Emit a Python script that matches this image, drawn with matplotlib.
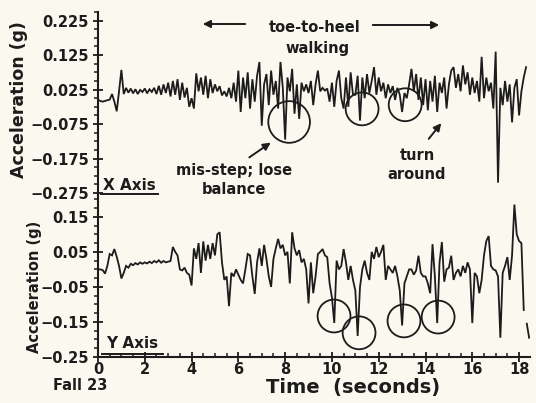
import numpy as np
import matplotlib
matplotlib.use("Agg")
import matplotlib.pyplot as plt
from matplotlib.lines import Line2D
from matplotlib.patches import FancyArrowPatch
from matplotlib.ticker import MultipleLocator, FixedLocator, FixedFormatter

W, H = 536, 403
BG = "#fbf8ef"
INK = "#1c1c1c"
FONT = "DejaVu Sans"

DT = 0.1  # sample spacing (s)

# X-axis acceleration (g), one value every 0.1 s from t = 0
x_acc = [
    -0.005, -0.008, -0.010, -0.008, -0.006, -0.004, 0.012, -0.010, -0.038, 0.020,
    0.082, 0.012, 0.030, 0.016, 0.028, 0.014, 0.026, 0.012, 0.024, 0.018,
    0.028, 0.014, 0.026, 0.018, 0.030, 0.012, 0.036, 0.010, 0.040, 0.015,
    0.045, 0.005, 0.050, 0.010, 0.055, -0.005, 0.045, 0.002, 0.030, -0.025,
    0.000, -0.030, 0.072, 0.020, 0.060, 0.010, 0.065, 0.000, 0.055, 0.015,
    0.040, 0.020, 0.035, 0.008, 0.020, 0.005, 0.030, 0.000, 0.045, -0.010,
    0.080, -0.040, 0.060, 0.000, 0.075, -0.030, 0.055, -0.010, 0.065, 0.105,
    -0.080, 0.040, 0.070, -0.020, 0.080, 0.010, 0.050, -0.030, 0.105, 0.030,
    -0.120, 0.060, 0.020, 0.085, -0.045, 0.040, -0.060, 0.045, 0.020, 0.040,
    0.015, 0.050, -0.020, 0.040, 0.080, 0.020, 0.030, 0.022, 0.028, -0.010,
    0.045, -0.025, 0.050, 0.080, 0.000, -0.030, 0.060, -0.025, 0.075, 0.010,
    0.010, 0.065, -0.065, 0.060, 0.000, 0.070, 0.015, 0.050, 0.090, 0.010,
    0.060, 0.020, 0.045, 0.000, 0.040, 0.015, 0.035, -0.005, 0.030, 0.010,
    -0.040, 0.015, 0.000, 0.040, 0.085, 0.020, 0.070, -0.005, 0.060, -0.020,
    0.055, -0.035, 0.050, -0.010, 0.065, -0.040, 0.045, 0.015, 0.060, -0.030,
    0.040, 0.080, 0.090, 0.030, 0.070, 0.020, 0.095, 0.040, 0.075, 0.010,
    0.060, 0.015, 0.050, -0.010, 0.120, 0.000, 0.060, 0.020, 0.045, -0.030,
    0.135, -0.245, 0.030, -0.020, 0.050, -0.010, 0.040, -0.070, 0.030, 0.055,
    -0.050, 0.020, 0.060, 0.090,
]

# Y-axis acceleration (g), one value every 0.1 s from t = 0
y_acc = [
    0.000, 0.000, -0.002, -0.012, 0.010, 0.044, 0.040, 0.058, 0.036, 0.010,
    -0.026, -0.010, 0.010, 0.005, 0.016, 0.012, 0.018, 0.014, 0.020, 0.016,
    0.020, 0.017, 0.022, 0.018, 0.024, 0.020, 0.026, 0.019, 0.024, 0.020,
    0.022, 0.024, 0.064, 0.050, 0.040, 0.000, -0.003, 0.005, -0.010, -0.015,
    -0.046, 0.060, 0.030, 0.075, -0.010, 0.080, 0.025, 0.070, 0.030, 0.075,
    0.040, 0.100, 0.106, 0.020, -0.030, -0.020, -0.105, -0.010, -0.020, 0.000,
    -0.015, -0.030, -0.040, 0.000, 0.044, 0.040, -0.020, -0.070, 0.020, 0.060,
    0.010, 0.070, 0.030, -0.020, -0.050, 0.030, 0.060, 0.087, 0.060, 0.070,
    0.040, 0.050, -0.040, 0.106, 0.060, 0.040, 0.055, 0.020, 0.030, 0.000,
    -0.097, 0.020, -0.068, -0.020, 0.044, 0.050, 0.058, 0.040, 0.035, -0.040,
    -0.080, -0.153, 0.025, 0.000, 0.010, 0.058, 0.020, -0.030, 0.010, -0.030,
    -0.060, -0.190, -0.050, 0.000, 0.025, -0.010, -0.030, 0.050, 0.030, 0.064,
    0.035, 0.050, 0.070, -0.030, 0.010, 0.000, -0.010, 0.010, -0.020, -0.060,
    -0.160, -0.040, -0.020, 0.000, 0.000, -0.015, -0.003, 0.039, -0.010, -0.020,
    -0.020, -0.040, -0.068, 0.072, -0.020, -0.153, 0.020, 0.078, -0.035, 0.000,
    0.005, 0.039, -0.030, -0.010, 0.000, -0.020, 0.010, -0.010, 0.020, 0.000,
    -0.153, -0.010, -0.020, -0.068, -0.030, 0.040, 0.081, 0.095, 0.010, 0.000,
    -0.003, -0.020, -0.195, -0.010, 0.010, 0.035, -0.030, 0.040, 0.185, 0.100,
    0.081, 0.075, -0.116,
]
# short detached piece at the very end of the Y trace
y_tail_t = [18.33, 18.43]
y_tail = [-0.155, -0.195]

x_ticks = [0.225, 0.125, 0.025, -0.075, -0.175, -0.275]
y_ticks = [0.15, 0.05, -0.05, -0.15, -0.25]
t_ticks = [0, 2, 4, 6, 8, 10, 12, 14, 16, 18]

# circled events (t, g, marker size)
x_circles = [(8.17, -0.069, 900), (11.29, -0.031, 560), (13.13, -0.019, 560)]
y_circles = [(10.09, -0.133, 560), (11.16, -0.181, 560),
             (13.08, -0.147, 560), (14.54, -0.136, 560)]


def fpos(x, y):
    """pixel position in the 536x403 picture -> figure fraction"""
    return x / W, 1 - y / H


def fmt(v, nd):
    s = f"{abs(v):.{nd}f}"
    return ("\u2212" if v < 0 else "") + s


def style_y(ax, ticks, nd):
    ax.yaxis.set_major_locator(FixedLocator(ticks))
    ax.yaxis.set_major_formatter(FixedFormatter([fmt(v, nd) for v in ticks]))
    ax.yaxis.set_minor_locator(MultipleLocator(0.025))
    ax.tick_params(axis="y", which="major", direction="inout", length=7,
                   width=1.3, pad=3, labelsize=10.5, colors=INK)
    ax.tick_params(axis="y", which="minor", direction="out", length=3,
                   width=1.1, colors=INK)
    for lab in ax.get_yticklabels():
        lab.set_fontweight("bold")
    for s in ("top", "right"):
        ax.spines[s].set_visible(False)
    ax.spines["left"].set_linewidth(1.5)
    ax.spines["left"].set_color(INK)
    ax.set_facecolor("none")


plt.rcParams["font.family"] = FONT
fig = plt.figure(figsize=(W / 100, H / 100), dpi=100, facecolor=BG)

left, width = 98 / W, 431.6 / W
ax1 = fig.add_axes([left, 1 - 193 / H, width, (193 - 12) / H])
ax2 = fig.add_axes([left, 1 - 357 / H, width, (357 - 193) / H])

t_x = np.arange(len(x_acc)) * DT
t_y = np.arange(len(y_acc)) * DT

ax1.plot(t_x, x_acc, color=INK, lw=1.3, solid_joinstyle="miter")
ax2.plot(t_y, y_acc, color=INK, lw=1.3, solid_joinstyle="miter")
ax2.plot(y_tail_t, y_tail, color=INK, lw=1.3)

for t, g, s in x_circles:
    ax1.scatter(t, g, s=s, facecolors="none", edgecolors=INK, linewidths=1.3)
for t, g, s in y_circles:
    ax2.scatter(t, g, s=s, facecolors="none", edgecolors=INK, linewidths=1.3)

for ax in (ax1, ax2):
    ax.set_xlim(0, 18.45)
ax1.set_ylim(-0.275, 0.25)
ax2.set_ylim(-0.25, 0.218)

style_y(ax1, x_ticks, 3)
style_y(ax2, y_ticks, 2)

ax1.spines["bottom"].set_visible(False)
ax1.set_xticks([])

ax2.xaxis.set_major_locator(FixedLocator(t_ticks))
ax2.xaxis.set_minor_locator(MultipleLocator(0.5))
ax2.tick_params(axis="x", which="major", direction="inout", length=7,
                width=1.3, pad=0, labelsize=10.5, colors=INK)
ax2.tick_params(axis="x", which="minor", direction="in", length=3,
                width=1.1, colors=INK)
for lab in ax2.get_xticklabels():
    lab.set_fontweight("bold")
ax2.spines["bottom"].set_linewidth(1.5)
ax2.spines["bottom"].set_color(INK)

txt = dict(color=INK, fontweight="bold", ha="center", va="center")

# axis titles
fig.text(*fpos(19, 100), "Acceleration (g)", rotation=90, fontsize=12.5, **txt)
fig.text(*fpos(35, 287), "Acceleration (g)", rotation=90, fontsize=10.5, **txt)
fig.text(*fpos(353, 387), "Time  (seconds)", fontsize=14, **txt)
fig.text(*fpos(80, 386), "Fall 23", fontsize=10.5, **txt)

# panel names, underlined
fig.text(*fpos(129, 185), "X Axis", fontsize=11, **txt)
fig.add_artist(Line2D([101 / W, 158 / W], [1 - 194 / H] * 2, color=INK, lw=1.4))
fig.text(*fpos(132, 344), "Y Axis", fontsize=11, **txt)
fig.add_artist(Line2D([102 / W, 163 / W], [1 - 354 / H] * 2, color=INK, lw=1.4))

# annotations
fig.text(*fpos(315, 27), "toe-to-heel", fontsize=10.5, **txt)
fig.text(*fpos(318, 48), "walking", fontsize=10.5, **txt)
arr = dict(arrowstyle="-|>", color=INK, lw=1.4, mutation_scale=11)
fig.add_artist(FancyArrowPatch(
    fpos(248, 24), fpos(200, 24), transform=fig.transFigure, **arr))
fig.add_artist(FancyArrowPatch(
    fpos(370, 25), fpos(442, 25), transform=fig.transFigure, **arr))

fig.text(*fpos(234, 170), "mis-step; lose", fontsize=10.5, **txt)
fig.text(*fpos(234, 189), "balance", fontsize=10.5, **txt)
fig.add_artist(FancyArrowPatch(
    fpos(247, 159), fpos(273, 141), transform=fig.transFigure, **arr))

fig.text(*fpos(417, 155), "turn", fontsize=10.5, **txt)
fig.text(*fpos(417, 174), "around", fontsize=10.5, **txt)
fig.add_artist(FancyArrowPatch(
    fpos(427, 141), fpos(443, 121), transform=fig.transFigure, **arr))

fig.savefig("out.png", dpi=100, facecolor=BG)
